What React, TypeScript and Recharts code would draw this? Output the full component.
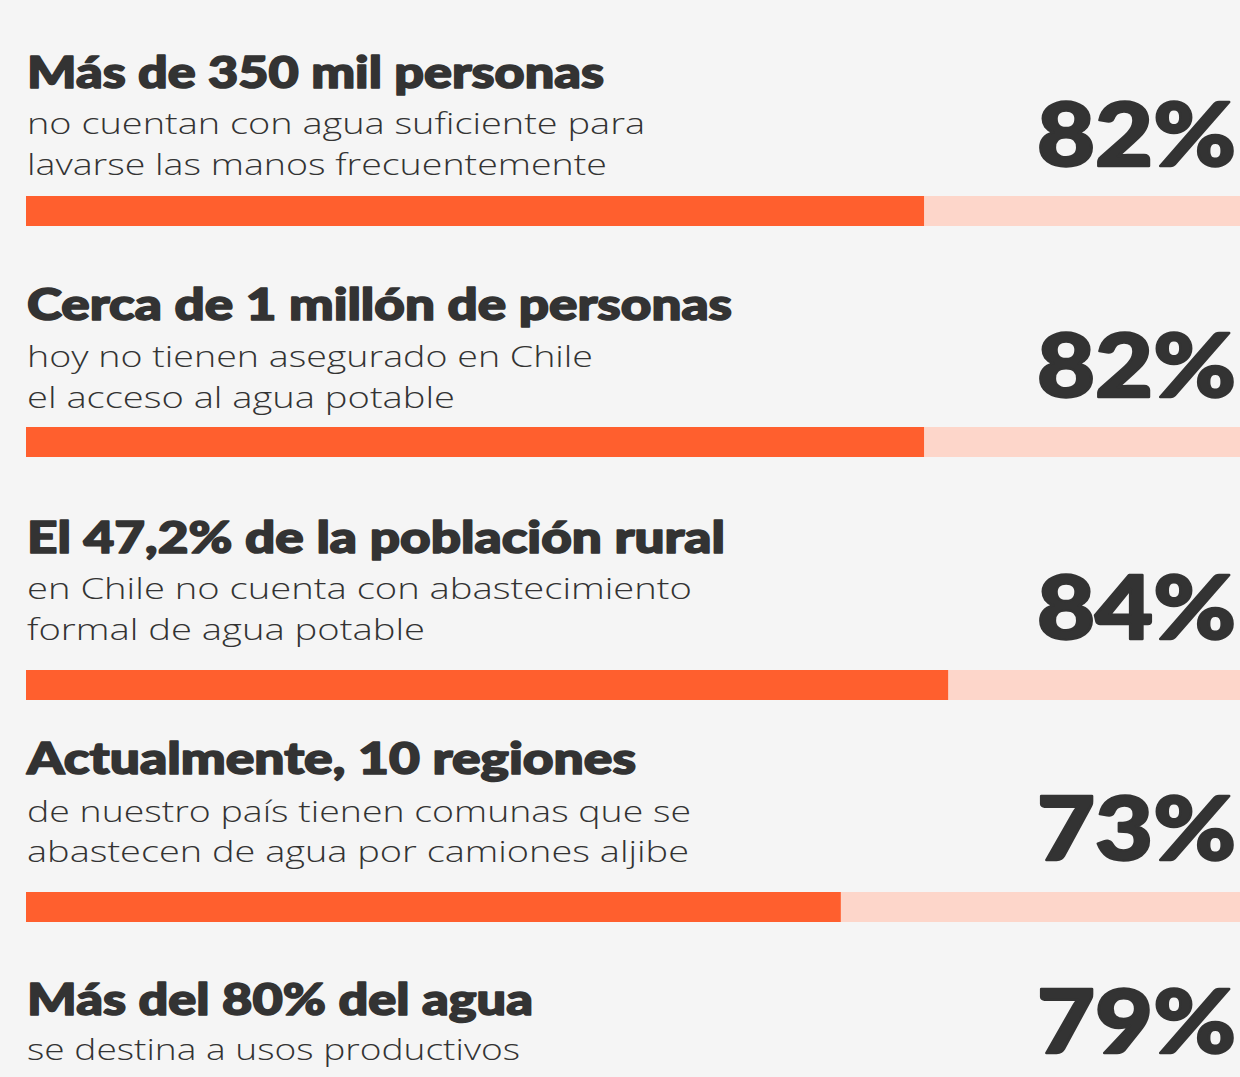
import React from 'react';
import { BarChart, Bar, XAxis, YAxis } from 'recharts';

// ---------- data ----------
const HEADLINES = [
  'Más de 350 mil personas',
  'Cerca de 1 millón de personas',
  'El 47,2% de la población rural',
  'Actualmente, 10 regiones',
  'Más del 80% del agua',
];

const DETAIL_LINE_1 = [
  'no cuentan con agua suficiente para',
  'hoy no tienen asegurado en Chile',
  'en Chile no cuenta con abastecimiento',
  'de nuestro país tienen comunas que se',
  'se destina a usos productivos',
];

const DETAIL_LINE_2 = [
  'lavarse las manos frecuentemente',
  'el acceso al agua potable',
  'formal de agua potable',
  'abastecen de agua por camiones aljibe',
  '',
];

const PERCENT_LABELS = ['82%', '82%', '84%', '73%', '79%'];

// bar lengths (in the same units as the labels)
const BAR_VALUES = [82, 82, 84.2, 74.4];
const SCALE_MAX = 110.85;

// ---------- style / layout ----------
const BG = '#f5f5f5';
const ORANGE = '#ff5f2e';
const TRACK = '#fdd6ca';
const INK = '#333333';

const W = 1240;
const H = 1077;
const TEXT_X = 27;
const PCT_RIGHT = 1236;

const HEAD_BASE = [88, 320, 553, 774, 1015];
const SUB1_BASE = [134, 367, 599, 822, 1060];
const SUB2_BASE = [175, 408, 640, 862, 0];
const PCT_BASE = [166, 397, 639, 860, 1053];
const BAR_TOP = [196, 427, 670, 892];
const BAR_H = 30;

const HEAD_LEN = [577, 705, 698, 609, 506];
const SUB1_LEN = [618, 566, 665, 664, 493];
const SUB2_LEN = [580, 428, 398, 662, 0];
const PCT_LEN = 199;

const headStyle: React.CSSProperties = {
  fontFamily: 'Lato, sans-serif',
  fontWeight: 900,
  fontSize: 43,
};
const subStyle: React.CSSProperties = {
  fontFamily: '"Open Sans", sans-serif',
  fontWeight: 300,
  fontSize: 30,
};
const pctStyle: React.CSSProperties = {
  fontFamily: 'Lato, sans-serif',
  fontWeight: 900,
  fontSize: 87,
};

function RowBar({ i }: { i: number }) {
  const data = [{ name: HEADLINES[i], value: BAR_VALUES[i] }];
  return (
    <div style={{ position: 'absolute', left: 0, top: BAR_TOP[i] }}>
      <BarChart
        width={W}
        height={BAR_H}
        data={data}
        layout="vertical"
        margin={{ top: 0, right: 0, bottom: 0, left: 26 }}
        barCategoryGap={0}
      >
        <XAxis type="number" domain={[0, SCALE_MAX]} hide />
        <YAxis type="category" dataKey="name" hide />
        <Bar
          dataKey="value"
          fill={ORANGE}
          background={{ fill: TRACK }}
          isAnimationActive={false}
        />
      </BarChart>
    </div>
  );
}

export default function App() {
  return (
    <div
      style={{
        position: 'relative',
        width: W,
        height: H,
        background: BG,
        overflow: 'hidden',
      }}
    >
      <style>{`body{margin:0;}`}</style>
      {BAR_VALUES.map((_, i) => (
        <RowBar key={i} i={i} />
      ))}
      <svg
        width={W}
        height={H}
        style={{ position: 'absolute', left: 0, top: 0, pointerEvents: 'none' }}
      >
        {HEADLINES.map((t, i) => (
          <g key={i} fill={INK}>
            <text
              x={TEXT_X}
              y={HEAD_BASE[i]}
              style={headStyle}
              stroke={INK}
              strokeWidth={1.6}
              strokeLinejoin="round"
              textLength={HEAD_LEN[i]}
              lengthAdjust="spacingAndGlyphs"
            >
              {t}
            </text>
            <text
              x={TEXT_X}
              y={SUB1_BASE[i]}
              style={subStyle}
              textLength={SUB1_LEN[i]}
              lengthAdjust="spacingAndGlyphs"
            >
              {DETAIL_LINE_1[i]}
            </text>
            {DETAIL_LINE_2[i] ? (
              <text
                x={TEXT_X}
                y={SUB2_BASE[i]}
                style={subStyle}
                textLength={SUB2_LEN[i]}
                lengthAdjust="spacingAndGlyphs"
              >
                {DETAIL_LINE_2[i]}
              </text>
            ) : null}
            <text
              x={PCT_RIGHT - PCT_LEN}
              y={PCT_BASE[i]}
              style={pctStyle}
              stroke={INK}
              strokeWidth={2.4}
              strokeLinejoin="round"
              textLength={PCT_LEN}
              lengthAdjust="spacingAndGlyphs"
            >
              {PERCENT_LABELS[i]}
            </text>
          </g>
        ))}
      </svg>
    </div>
  );
}
